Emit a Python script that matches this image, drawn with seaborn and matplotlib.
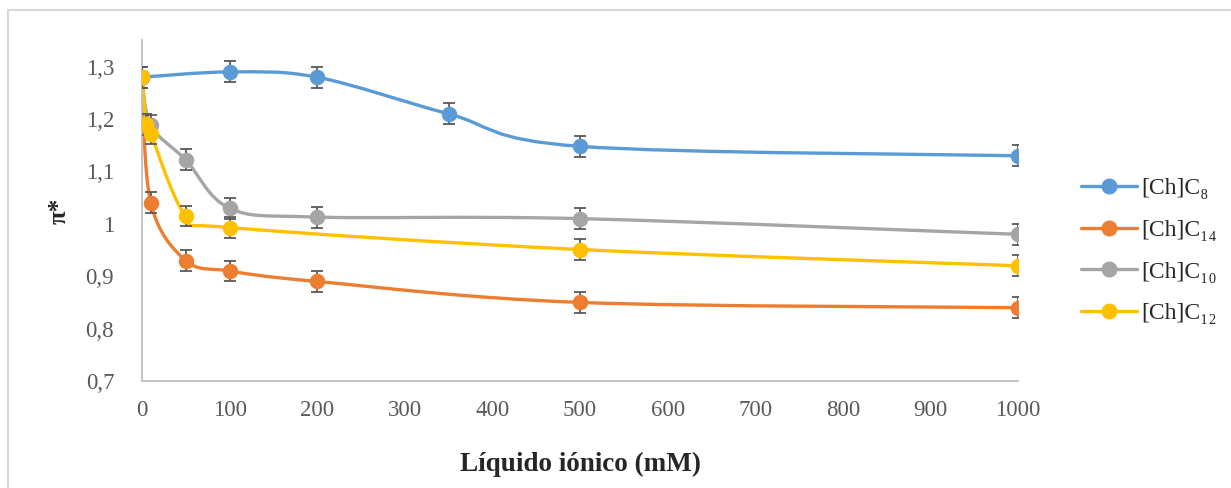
import numpy as np
import seaborn as sns
from matplotlib import pyplot as plt
from matplotlib.path import Path
from matplotlib.patches import PathPatch
from matplotlib.lines import Line2D

sns.set_theme(style='white')
plt.rcParams['font.family'] = ['Liberation Serif', 'DejaVu Serif']

# data
x_c8 = [0, 100, 200, 350, 500, 1000]
y_c8 = [1.28, 1.29, 1.28, 1.21, 1.148, 1.13]
x_c14 = [0, 10, 50, 100, 200, 500, 1000]
y_c14 = [1.28, 1.04, 0.93, 0.91, 0.89, 0.85, 0.84]
x_c10 = [0, 10, 50, 100, 200, 500, 1000]
y_c10 = [1.28, 1.188, 1.122, 1.03, 1.013, 1.01, 0.98]
x_c12 = [0, 5, 10, 50, 100, 500, 1000]
y_c12 = [1.28, 1.19, 1.172, 1.015, 0.993, 0.951, 0.92]
err = 0.02

names = ['[Ch]C₈', '[Ch]C₁₄', '[Ch]C₁₀', '[Ch]C₁₂']
colors = ['#5B9BD5', '#ED7D31', '#A5A5A5', '#FFC000']
series = [(x_c8, y_c8), (x_c14, y_c14), (x_c10, y_c10), (x_c12, y_c12)]


def smooth_path(xs, ys):
    # Excel-style smoothed line: cubic bezier through the points
    p = np.column_stack([xs, ys]).astype(float)
    n = len(p)
    verts = [p[0]]
    codes = [Path.MOVETO]
    for i in range(n - 1):
        p0 = p[i - 1] if i > 0 else p[i]
        p3 = p[i + 2] if i + 2 < n else p[i + 1]
        c1 = p[i] + (p[i + 1] - p0) / 6
        c2 = p[i + 1] - (p3 - p[i]) / 6
        verts += [c1, c2, p[i + 1]]
        codes += [Path.CURVE4] * 3
    return Path(verts, codes)


fig = plt.figure(figsize=(12.31, 4.88), dpi=100)
ax = fig.add_axes([142 / 1231, 1 - 381 / 488, (1018 - 142) / 1231, (381 - 40) / 488])

for (xs, ys), c, name in zip(series, colors, names):
    ax.add_patch(PathPatch(smooth_path(xs, ys), fill=False, edgecolor=c,
                           lw=2.4, capstyle='round', zorder=2))
    ax.errorbar(xs, ys, yerr=err, fmt='none', ecolor='#595959', elinewidth=1.3,
                capsize=4, capthick=1.3, zorder=3)
    sns.scatterplot(x=xs, y=ys, color=c, s=125, edgecolor=c, linewidth=0,
                    ax=ax, zorder=4)

ax.set_xlim(0, 1000)
ax.set_ylim(0.7, 1.351)
ax.set_xticks(range(0, 1001, 100))
ax.set_yticks([0.7, 0.8, 0.9, 1.0, 1.1, 1.2, 1.3])
ax.set_yticklabels(['0,7', '0,8', '0,9', '1', '1,1', '1,2', '1,3'])
ax.tick_params(labelsize=16.5, colors='#595959', length=0)
ax.tick_params(axis='x', pad=14)
ax.tick_params(axis='y', pad=20)
for s in ['top', 'right']:
    ax.spines[s].set_visible(False)
for s in ['left', 'bottom']:
    ax.spines[s].set_color('#BFBFBF')
    ax.spines[s].set_linewidth(1.3)

ax.set_xlabel('Líquido iónico (mM)', fontsize=19.5, fontweight='bold', labelpad=22)
ax.set_ylabel('π*', fontsize=18, fontweight='bold', labelpad=11)

handles = [Line2D([], [], color=c, lw=2.4, marker='o', markersize=10.5)
           for c in colors]
fig.legend(handles, names, loc='center left', bbox_to_anchor=(1072 / 1231, 1 - 251 / 488),
           frameon=False, fontsize=17, handlelength=2.35, labelspacing=0.85,
           handletextpad=0.2, borderaxespad=0)

# outer chart border
fig.add_artist(Line2D([8 / 1231, 8 / 1231], [0, 1 - 10 / 488], color='#D9D9D9', lw=1.5))
fig.add_artist(Line2D([8 / 1231, 1], [1 - 10 / 488, 1 - 10 / 488], color='#D9D9D9', lw=1.5))

fig.savefig('out.png', dpi=100)
